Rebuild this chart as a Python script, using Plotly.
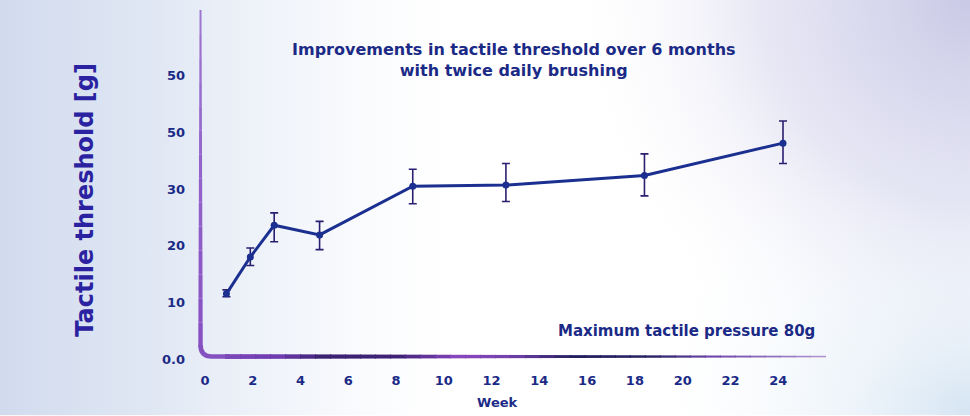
import base64
import plotly.graph_objects as go

# ---- data ----
weeks = [0.9, 1.9, 2.9, 4.8, 8.7, 12.6, 18.4, 24.2]
threshold = [11.5, 18.0, 23.6, 21.9, 30.5, 30.7, 32.4, 38.1]
err_plus = [0.7, 1.6, 2.2, 2.4, 3.0, 3.8, 3.8, 3.9]
err_minus = [0.5, 1.5, 2.9, 2.6, 3.1, 2.9, 3.6, 3.6]

x_tickvals = [0, 2, 4, 6, 8, 10, 12, 14, 16, 18, 20, 22, 24]
y_tickvals = [0, 10, 20, 30, 40, 50]
y_ticktext = ["0.0", "10", "20", "30", "50", "50"]

title_text = "Improvements in tactile threshold over 6 months<br>with twice daily brushing"
note_text = "Maximum tactile pressure 80g"

NAVY = "#1b2a86"
FONT = "DejaVu Sans"

W, H = 970, 416
PL, PR, PT, PB = 198, 826, 10, 359.5   # plot area in window pixels
PW, PH = PR - PL, PB - PT


def px(x):
    return (x - PL) / PW


def py(y):
    return (PB - y) / PH


fig = go.Figure()
fig.add_trace(go.Scatter(
    x=weeks, y=threshold, mode="lines+markers",
    line=dict(color="#1a2f8f", width=3),
    marker=dict(color="#1a2f8f", size=7),
    error_y=dict(type="data", symmetric=False, array=err_plus, arrayminus=err_minus,
                 color="#2a1f70", thickness=1.6, width=4),
    showlegend=False, hoverinfo="skip",
))

# background gradient as an svg image
svg = """<svg xmlns='http://www.w3.org/2000/svg' width='970' height='416' viewBox='0 0 970 416' preserveAspectRatio='none'>
<defs>
<linearGradient id='l' x1='0' x2='1' y1='0' y2='0'>
<stop offset='0' stop-color='#d2dbee' stop-opacity='1'/>
<stop offset='0.15' stop-color='#dbe4f2' stop-opacity='0.9'/>
<stop offset='0.33' stop-color='#eef2f9' stop-opacity='0.6'/>
<stop offset='0.5' stop-color='#ffffff' stop-opacity='0'/>
</linearGradient>
<radialGradient id='tr' cx='1' cy='0' r='0.42' gradientTransform='translate(0,0) scale(1,2.3)'>
<stop offset='0' stop-color='#c9c9e6' stop-opacity='1'/>
<stop offset='0.5' stop-color='#dcdcf0' stop-opacity='0.7'/>
<stop offset='1' stop-color='#ffffff' stop-opacity='0'/>
</radialGradient>
<radialGradient id='br' cx='1' cy='1' r='0.35' gradientTransform='translate(0,-1.6) scale(1,2.6)'>
<stop offset='0' stop-color='#d6e5f3' stop-opacity='1'/>
<stop offset='1' stop-color='#ffffff' stop-opacity='0'/>
</radialGradient>
</defs>
<rect width='970' height='416' fill='#ffffff'/>
<rect width='970' height='416' fill='url(#l)'/>
<rect width='970' height='416' fill='url(#br)'/>
<rect width='970' height='416' fill='url(#tr)'/>
</svg>"""
bg_src = "data:image/svg+xml;base64," + base64.b64encode(svg.encode()).decode()

images = [dict(source=bg_src, xref="paper", yref="paper",
               x=px(0), y=py(0), sizex=W / PW, sizey=H / PH,
               xanchor="left", yanchor="top", sizing="stretch", layer="below")]

shapes = []
# vertical axis line (tapering)
nseg = 14
for i in range(nseg):
    f0 = i / nseg
    f1 = (i + 1) / nseg
    y0 = 0.035 + f0 * (1 - 0.035)
    y1 = 0.035 + f1 * (1 - 0.035)
    a = 1.0 - 0.25 * f0
    wdt = 4.4 - 2.6 * f0
    shapes.append(dict(type="line", xref="paper", yref="paper", x0=0.004, x1=0.004, y0=y0, y1=y1,
                       line=dict(color=f"rgba(135,80,195,{a:.2f})", width=wdt), layer="above"))
# rounded corner
shapes.append(dict(type="path", xref="paper", yref="paper",
                   path="M 0.004,0.04 Q 0.004,0.007 0.022,0.007 L 0.05,0.007",
                   line=dict(color="#8550c0", width=4.6), layer="above"))
# bottom axis line with colour variation
stops = [(0.0, (133, 80, 192)), (0.13, (110, 60, 175)), (0.2, (60, 34, 115)), (0.32, (65, 36, 120)),
         (0.42, (138, 72, 192)), (0.5, (115, 65, 170)), (0.6, (35, 32, 95)), (0.72, (40, 36, 100)),
         (0.82, (110, 70, 170)), (1.0, (175, 150, 210))]


def col(f):
    for (a, ca), (b, cb) in zip(stops[:-1], stops[1:]):
        if a <= f <= b:
            t = (f - a) / (b - a) if b > a else 0
            return tuple(int(ca[k] + (cb[k] - ca[k]) * t) for k in range(3))
    return stops[-1][1]


nb = 40
for i in range(nb):
    f0 = 0.045 + (1 - 0.045) * i / nb
    f1 = 0.045 + (1 - 0.045) * (i + 1) / nb
    c = col((f0 + f1) / 2)
    wdt = 4.8 - 3.4 * (i / nb)
    shapes.append(dict(type="line", xref="paper", yref="paper", x0=f0 - 0.002, x1=f1, y0=0.007, y1=0.007,
                       line=dict(color=f"rgb{c}", width=wdt), layer="above"))

annotations = [
    dict(text=title_text, xref="paper", yref="paper", x=px(514), y=py(60),
         showarrow=False, xanchor="center", yanchor="middle",
         font=dict(family=FONT, size=16, color=NAVY, weight=700), align="center"),
    dict(text=note_text, xref="paper", yref="paper", x=px(817), y=py(331),
         showarrow=False, xanchor="right", yanchor="middle",
         font=dict(family=FONT, size=15, color=NAVY, weight=600)),
    dict(text="Week", xref="paper", yref="paper", x=px(497), y=py(403),
         showarrow=False, xanchor="center", yanchor="middle",
         font=dict(family=FONT, size=13, color=NAVY, weight=700)),
    dict(text="Tactile threshold [g]", xref="paper", yref="paper", x=px(85), y=py(200),
         showarrow=False, xanchor="center", yanchor="middle", textangle=-90,
         font=dict(family=FONT, size=24, color="#2a22a0", weight=700)),
]

fig.update_layout(
    width=W, height=H,
    margin=dict(l=PL, r=W - PR, t=PT, b=H - PB),
    paper_bgcolor="#ffffff", plot_bgcolor="rgba(0,0,0,0)",
    shapes=shapes, annotations=annotations, images=images,
    font=dict(family=FONT, color=NAVY),
    xaxis=dict(range=[-0.29, 26.0], tickvals=x_tickvals, showgrid=False, zeroline=False,
               showline=False, ticks="", ticklabelstandoff=12,
               tickfont=dict(family=FONT, size=13, color=NAVY, weight=700)),
    yaxis=dict(range=[0, 61.6], tickvals=y_tickvals, ticktext=y_ticktext, showgrid=False,
               zeroline=False, showline=False, ticks="", ticklabelstandoff=12,
               tickfont=dict(family=FONT, size=13, color=NAVY, weight=700)),
)

fig.write_html("out.html", config={"displayModeBar": False},
               post_script="document.body.style.margin='0';document.body.style.overflow='hidden';")
